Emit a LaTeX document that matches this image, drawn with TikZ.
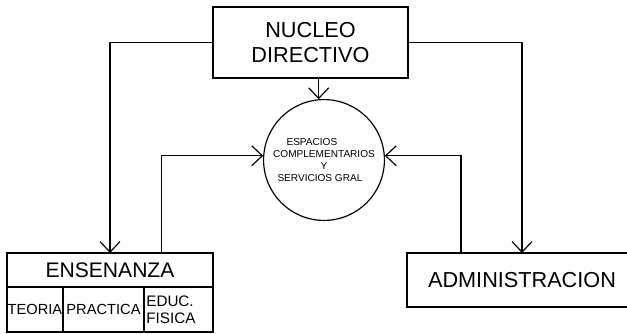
\documentclass[tikz,border=0pt]{standalone}
\usepackage{fontspec}
\setmainfont{Liberation Sans}
\usetikzlibrary{arrows.meta,positioning,calc}
\tikzstyle{blk}=[draw, line width=1pt, outer sep=0pt, inner sep=1pt]
\tikzstyle{cell}=[blk, inner sep=0.5pt, minimum height=1.35cm, font=\fontsize{12.5}{14}\selectfont]
\tikzstyle{link}=[line width=1pt, ->]

\begin{document}
\begin{tikzpicture}[x=0.03cm,y=-0.03cm,>={Straight Barb[length=9pt,width=17pt]}]
    \useasboundingbox (0,0) rectangle (627,333);
    \node [blk, minimum width=5.85cm, minimum height=2.13cm, align=center, font=\fontsize{18.5}{22}\selectfont] (nucleo) at (310.5,42.5) {NUCLEO\\DIRECTIVO};
    \node [circle, draw, line width=1pt, minimum size=3.48cm, align=center, font=\fontsize{8.6}{10.5}\selectfont] (espacios) at (324,160) {ESPACIOS\hspace*{2.4em}\\COMPLEMENTARIOS\\Y\hspace*{0.6em}\\SERVICIOS GRAL\hspace*{0.8em}};
    \node [blk, minimum width=6.18cm, minimum height=1.02cm, font=\fontsize{18}{20}\selectfont] (ensenanza) at (110,270) {ENSENANZA};
    \node [cell, minimum width=1.68cm, below right=0pt of ensenanza.south west] (teoria) {TEORIA};
    \node [cell, minimum width=2.43cm, right=0pt of teoria] (practica) {PRACTICA};
    \node [cell, inner xsep=2pt, text width=1.93cm, right=0pt of practica, align=left, font=\fontsize{13}{14.5}\selectfont] (educ) {EDUC.\\FISICA};
    \node [blk, minimum width=6.9cm, minimum height=1.62cm, font=\fontsize{18.5}{20}\selectfont] (admin) at (522,280) {ADMINISTRACION};
    \draw [link] (nucleo.west) -| (ensenanza.north);
    \draw [link] (nucleo.east) -| (admin.north);
    \draw [link] (nucleo.south -| espacios.95) -- (espacios.95);
    \draw [link] ($(ensenanza.north)!0.5!(ensenanza.north east)$) |- (espacios.176);
    \draw [link] ($(admin.north west)!0.47!(admin.north)$) |- (espacios.4);
\end{tikzpicture}
\end{document}
